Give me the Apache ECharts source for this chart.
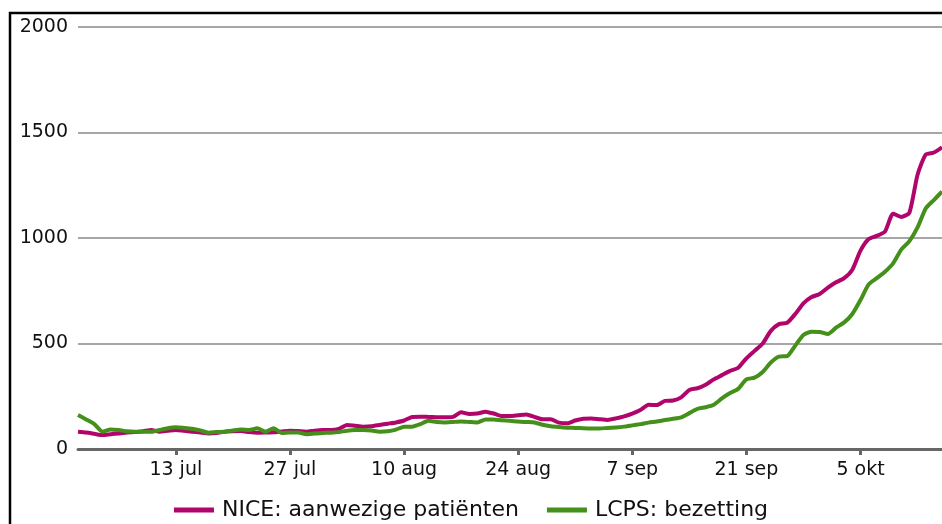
<!DOCTYPE html>
<html>
<head>
<meta charset="utf-8">
<script src="https://cdn.jsdelivr.net/npm/echarts@6/dist/echarts.min.js"></script>
<style>
html, body { margin: 0; padding: 0; background: #fff; }
#charts { width: 942px; height: 524px; }
</style>
</head>
<body>
<div id="charts"></div>
<script>
// dagen vanaf 1 juli t/m 15 oktober
var months = ['jan', 'feb', 'mrt', 'apr', 'mei', 'jun', 'jul', 'aug', 'sep', 'okt', 'nov', 'dec'];
var dates = [];
for (var d = new Date(2020, 6, 1); d <= new Date(2020, 9, 15); d.setDate(d.getDate() + 1)) {
	dates.push(d.getDate() + ' ' + months[d.getMonth()]);
}
var tickLabels = ['13 jul', '27 jul', '10 aug', '24 aug', '7 sep', '21 sep', '5 okt'];

var nice = [
	82, 78, 72, 66, 70, 74, 78, 80, 84, 90,
	82, 86, 90, 86, 82, 78, 74, 76, 82, 84,
	85, 80, 77, 78, 79, 83, 87, 85, 82, 87,
	90, 90, 95, 114, 110, 106, 108, 114, 120, 126,
	135, 152, 153, 152, 151, 150, 152, 174, 166, 168,
	177, 168, 156, 156, 160, 164, 152, 141, 141, 125,
	122, 135, 143, 145, 141, 138, 145, 155, 168, 185,
	210, 208, 228, 230, 245, 280, 288, 305, 330, 350,
	370, 385, 430, 465, 500, 560, 592, 598, 640, 690,
	720, 735, 765, 790, 810, 850, 940, 995, 1010, 1030,
	1115, 1100, 1120, 1300, 1395, 1405, 1430
];
var lcps = [
	161, 140, 118, 82, 93, 90, 84, 82, 82, 82,
	90, 98, 103, 100, 96, 88, 77, 80, 82, 88,
	93, 90, 98, 82, 98, 76, 78, 78, 70, 73,
	76, 77, 80, 87, 90, 90, 88, 82, 84, 92,
	106, 106, 118, 134, 128, 126, 128, 130, 128, 126,
	140, 140, 136, 134, 130, 128, 126, 115, 108, 104,
	101, 100, 98, 97, 97, 100, 102, 106, 112, 118,
	125, 130, 137, 143, 150, 170, 190, 198, 210, 240,
	265, 285, 330, 338, 365, 410, 438, 440, 490, 540,
	556, 555, 545, 575, 600, 640, 706, 780, 810, 840,
	880, 945, 985, 1050, 1140, 1180, 1220
];

var fontName = 'DejaVu Sans';

var option = {
	animation: false,
	grid: { left: 78, right: 0, top: 27, bottom: 75 },
	legend: {
		left: 'center',
		top: 494,
		icon: 'rect',
		itemWidth: 40,
		itemHeight: 5,
		itemGap: 28,
		textStyle: { fontFamily: fontName, fontSize: 22, color: '#111', padding: [0, 0, 0, 3] },
		data: ['NICE: aanwezige patiënten', 'LCPS: bezetting']
	},
	xAxis: {
		type: 'category',
		data: dates,
		boundaryGap: false,
		axisLine: { lineStyle: { color: '#666', width: 3 } },
		axisTick: {
			length: 6,
			interval: function(i, v){ return tickLabels.indexOf(v) > -1; },
			lineStyle: { color: '#666', width: 3 }
		},
		axisLabel: {
			interval: function(i, v){ return tickLabels.indexOf(v) > -1; },
			fontFamily: fontName,
			fontSize: 19,
			color: '#111',
			margin: 12
		},
		splitLine: { show: false }
	},
	yAxis: {
		type: 'value',
		min: 0,
		max: 2000,
		interval: 500,
		axisLine: { show: false },
		axisTick: { show: false },
		axisLabel: {
			formatter: function(v){ return '' + v; },
			fontFamily: fontName, fontSize: 19, color: '#111', margin: 10
		},
		splitLine: { lineStyle: { color: '#888', width: 1.5 } }
	},
	series: [
		{
			name: 'NICE: aanwezige patiënten',
			type: 'line',
			data: nice,
			smooth: 0.2,
			symbol: 'none',
			color: '#b0066b',
			lineStyle: { width: 4, join: 'round' },
			z: 3
		},
		{
			name: 'LCPS: bezetting',
			type: 'line',
			data: lcps,
			smooth: 0.2,
			symbol: 'none',
			color: '#44901a',
			lineStyle: { width: 4, join: 'round' },
			z: 4
		}
	],
	graphic: [
		{
			type: 'rect',
			shape: { x: 10, y: 13, width: 1000, height: 1000 },
			style: { fill: null, stroke: '#000', lineWidth: 2.5 },
			silent: true
		}
	]
};

var myChart = echarts.init(document.getElementById('charts'));
myChart.setOption(option);
</script>
</body>
</html>
